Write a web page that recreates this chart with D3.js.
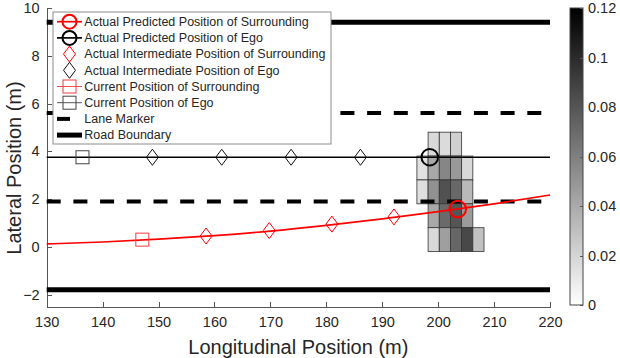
<!DOCTYPE html>
<html>
<head>
<meta charset="utf-8">
<script src="https://cdn.jsdelivr.net/npm/d3@7"></script>
<style>
  body { margin: 0; background: #fff; }
  text { font-family: "Liberation Sans", Arial, sans-serif; fill: #262626; }
  .axis path, .axis line { stroke: #555; shape-rendering: crispEdges; }
  .axis text { font-size: 14.5px; }
</style>
</head>
<body>
<div id="chart"></div>
<script>
// tick values
var xTicks = [130, 140, 150, 160, 170, 180, 190, 200, 210, 220];
var yTicks = [-2, 0, 2, 4, 6, 8, 10];
var cbTicks = [0, 0.02, 0.04, 0.06, 0.08, 0.1, 0.12];

// road geometry (lateral, m)
var roadBoundaryY = [9.4, -1.8];
var laneMarkerY = [5.6, 1.9];
var egoLaneY = 3.75;

// ego vehicle positions (longitudinal, m)
var egoCurrentX = [136.4];
var egoInterX = [148.9, 161.3, 173.7, 186.1];
var egoPredX = [198.5];

// surrounding vehicle path + positions
var surPathX = [130, 140, 150, 160, 170, 180, 190, 200, 210, 220];
var surPathY = [0.12, 0.2, 0.32, 0.47, 0.66, 0.9, 1.17, 1.47, 1.8, 2.17];
var surCurrentX = [147.1], surCurrentY = [0.3];
var surInterX = [158.5, 169.8, 181, 192.1];
var surInterY = [0.45, 0.68, 0.95, 1.25];
var surPredX = [203.5], surPredY = [1.58];

// probability grid cells (centres + value)
var cellX = [199.2, 201.2, 203.2,
             197.2, 199.2, 201.2, 203.2, 205.2,
             197.2, 199.2, 201.2, 203.2, 205.2,
             199.2, 201.2, 203.2, 205.2,
             199.2, 201.2, 203.2, 205.2, 207.2];
var cellY = [4.3, 4.3, 4.3,
             3.3, 3.3, 3.3, 3.3, 3.3,
             2.3, 2.3, 2.3, 2.3, 2.3,
             1.3, 1.3, 1.3, 1.3,
             0.3, 0.3, 0.3, 0.3, 0.3];
var cellP = [0.018, 0.017, 0.022,
             0.014, 0.041, 0.057, 0.048, 0.018,
             0.015, 0.052, 0.082, 0.071, 0.033,
             0.041, 0.07, 0.08, 0.047,
             0.018, 0.045, 0.072, 0.086, 0.029];

var legendItems = [
  "Actual Predicted Position of Surrounding",
  "Actual Predicted Position of Ego",
  "Actual Intermediate Position of Surrounding",
  "Actual Intermediate Position of Ego",
  "Current Position of Surrounding",
  "Current Position of Ego",
  "Lane Marker",
  "Road Boundary"
];

var width = 620, height = 358;
var plot = { left: 46.7, right: 550, top: 8, bottom: 306.5 };

var svg = d3.select("#chart").append("svg")
    .attr("width", width)
    .attr("height", height);

var x = d3.scaleLinear().domain([130, 220]).range([plot.left, plot.right]);
var y = d3.scaleLinear().domain([-2.5, 10]).range([plot.bottom, plot.top]);
var color = d3.scaleLinear().domain([0, 0.12]).range(["#ffffff", "#000000"]);

var line = d3.line().x(d => x(d[0])).y(d => y(d[1]));

// axes
svg.append("g")
    .attr("class", "axis")
    .attr("transform", `translate(0,${plot.bottom})`)
    .call(d3.axisBottom(x).tickValues(xTicks).tickFormat(d3.format("d"))
        .tickSizeInner(-5).tickSizeOuter(0).tickPadding(10.5));

svg.append("g")
    .attr("class", "axis")
    .attr("transform", `translate(${plot.left},0)`)
    .call(d3.axisLeft(y).tickValues(yTicks).tickFormat(d3.format("d"))
        .tickSizeInner(-5).tickSizeOuter(0).tickPadding(7));

// heat map cells
var cells = cellX.map((cx, i) => ({ x: cx, y: cellY[i], p: cellP[i] }));
svg.append("g").selectAll("rect")
    .data(cells)
    .enter().append("rect")
    .attr("x", d => x(d.x - 1))
    .attr("y", d => y(d.y + 0.5))
    .attr("width", d => x(d.x + 1) - x(d.x - 1))
    .attr("height", d => y(d.y - 0.5) - y(d.y + 0.5))
    .attr("fill", d => color(d.p))
    .attr("stroke", "#333")
    .attr("stroke-width", 0.8);

// road boundaries
roadBoundaryY.forEach(function (ry) {
  svg.append("path")
      .attr("d", line([[130, ry], [220, ry]]))
      .attr("stroke", "#000").attr("stroke-width", 5).attr("fill", "none");
});

// lane markers
laneMarkerY.forEach(function (ly) {
  svg.append("path")
      .attr("d", line([[130, ly], [220, ly]]))
      .attr("stroke", "#000").attr("stroke-width", 4)
      .attr("stroke-dasharray", "14 12.7").attr("fill", "none");
});

// ego lane path
svg.append("path")
    .attr("d", line([[130, egoLaneY], [220, egoLaneY]]))
    .attr("stroke", "#000").attr("stroke-width", 1.6).attr("fill", "none");

// surrounding path
svg.append("path")
    .attr("d", d3.line().x(d => x(d[0])).y(d => y(d[1])).curve(d3.curveMonotoneX)(surPathX.map((v, i) => [v, surPathY[i]])))
    .attr("stroke", "#ff0000").attr("stroke-width", 1.7).attr("fill", "none");

function diamond(g, cx, cy, col) {
  g.append("path")
      .attr("d", `M${cx},${cy - 8}L${cx + 6},${cy}L${cx},${cy + 8}L${cx - 6},${cy}Z`)
      .attr("fill", "none").attr("stroke", col).attr("stroke-width", 1);
}
function square(g, cx, cy, col) {
  g.append("rect")
      .attr("x", cx - 6.5).attr("y", cy - 6.5).attr("width", 13).attr("height", 13)
      .attr("fill", "none").attr("stroke", col).attr("stroke-width", 1);
}
function circle(g, cx, cy, r, col) {
  g.append("circle")
      .attr("cx", cx).attr("cy", cy).attr("r", r)
      .attr("fill", "none").attr("stroke", col).attr("stroke-width", 2);
}

var marks = svg.append("g");
egoCurrentX.forEach(v => square(marks, x(v), y(egoLaneY), "#444"));
egoInterX.forEach(v => diamond(marks, x(v), y(egoLaneY), "#111"));
egoPredX.forEach(v => circle(marks, x(v), y(egoLaneY), 8.3, "#000"));
surCurrentX.forEach((v, i) => square(marks, x(v), y(surCurrentY[i]), "#f03c3c"));
surInterX.forEach((v, i) => diamond(marks, x(v), y(surInterY[i]), "#ff0000"));
surPredX.forEach((v, i) => circle(marks, x(v), y(surPredY[i]), 8.3, "#ff0000"));

// legend
var lg = svg.append("g");
lg.append("rect")
    .attr("x", 53).attr("y", 12).attr("width", 278).attr("height", 132)
    .attr("fill", "#fff").attr("stroke", "#8c8c8c").attr("stroke-width", 1);

legendItems.forEach(function (label, i) {
  var cy = 21.7 + 16.2 * i;
  var row = lg.append("g");
  if (i === 0 || i === 1) {
    var c = i === 0 ? "#ff0000" : "#000";
    row.append("line").attr("x1", 57).attr("x2", 82).attr("y1", cy).attr("y2", cy)
        .attr("stroke", c).attr("stroke-width", 1.7);
    circle(row, 69.5, cy, 7, c);
  } else if (i === 2 || i === 3) {
    diamond(row, 69.5, cy, i === 2 ? "#ff0000" : "#111");
  } else if (i === 4 || i === 5) {
    var c2 = i === 4 ? "#f03c3c" : "#444";
    row.append("line").attr("x1", 57).attr("x2", 82).attr("y1", cy).attr("y2", cy)
        .attr("stroke", c2).attr("stroke-width", 0.9);
    square(row, 69.5, cy, c2);
  } else if (i === 6) {
    row.append("line").attr("x1", 57).attr("x2", 70).attr("y1", cy).attr("y2", cy)
        .attr("stroke", "#000").attr("stroke-width", 4);
  } else {
    row.append("line").attr("x1", 57).attr("x2", 82).attr("y1", cy).attr("y2", cy)
        .attr("stroke", "#000").attr("stroke-width", 5);
  }
  row.append("text")
      .attr("x", 84.3).attr("y", cy).attr("dy", "0.35em")
      .style("font-size", "12.5px")
      .text(label);
});

// colorbar
var cb = { x: 570, w: 13, top: 8, bottom: 305 };
var cbScale = d3.scaleLinear().domain([0, 0.12]).range([cb.bottom, cb.top]);
var grad = svg.append("defs").append("linearGradient")
    .attr("id", "cbgrad").attr("x1", 0).attr("y1", 1).attr("x2", 0).attr("y2", 0);
grad.append("stop").attr("offset", "0%").attr("stop-color", color(0));
grad.append("stop").attr("offset", "100%").attr("stop-color", color(0.12));
svg.append("rect")
    .attr("x", cb.x).attr("y", cb.top).attr("width", cb.w).attr("height", cb.bottom - cb.top)
    .attr("fill", "url(#cbgrad)").attr("stroke", "#444").attr("stroke-width", 1);
var cbAxis = svg.append("g")
    .attr("class", "axis")
    .attr("transform", `translate(${cb.x + cb.w},0)`)
    .call(d3.axisRight(cbScale).tickValues(cbTicks).tickFormat(d3.format("~g"))
        .tickSizeInner(-3).tickSizeOuter(0).tickPadding(5));
cbAxis.select(".domain").remove();

// axis titles
svg.append("text")
    .attr("x", (plot.left + plot.right) / 2).attr("y", 354)
    .attr("text-anchor", "middle")
    .style("font-size", "20px")
    .text("Longitudinal Position (m)");

svg.append("text")
    .attr("transform", "translate(21,168) rotate(-90)")
    .attr("text-anchor", "middle")
    .style("font-size", "20px")
    .text("Lateral Position (m)");
</script>
</body>
</html>
